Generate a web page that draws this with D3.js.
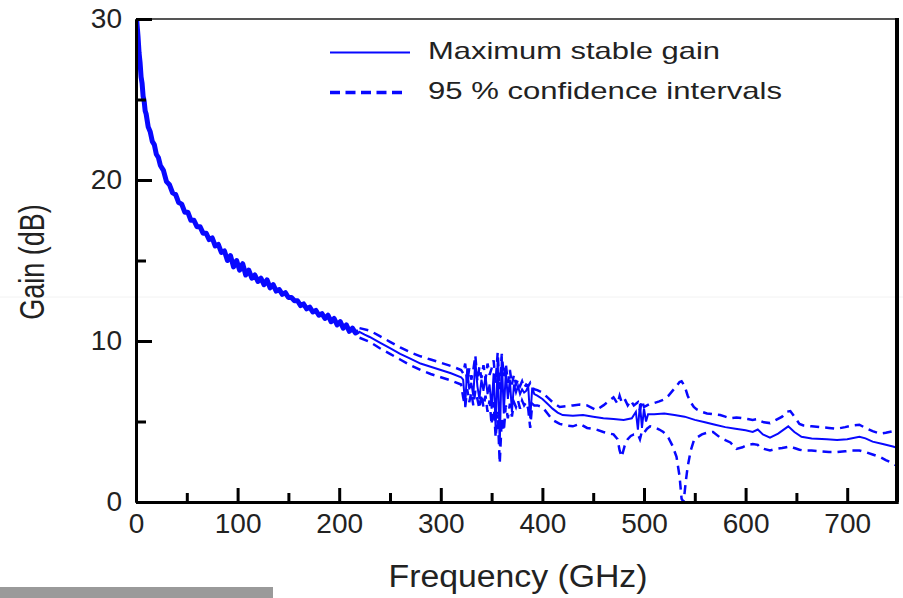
<!DOCTYPE html>
<html>
<head>
<meta charset="utf-8">
<script src="https://cdn.jsdelivr.net/npm/d3@7"></script>
<style>
  body { margin: 0; background: #fff; }
  svg { display: block; font-family: "Liberation Sans", Arial, sans-serif; }
</style>
</head>
<body>
<svg width="903" height="598"></svg>
<script>
// measured maximum stable gain, 0-220 GHz is the noisy low band
var freq = [0,1,2,3,4,5,6,7,8,9,10,12,14,16,18,20,22,24,27,30,33,36,39,42,45,48,51,54,57,60,63,66,69,72,75,78,81,84,87,90,93,96,99,102,105,108,111,114,117,120,123,126,129,132,135,138,141,144,147,150,153,156,159,162,165,168,171,174,177,180,183,186,189,192,195,198,201,204,207,210,213,216,219,
  225,230,240,250,260,270,280,290,300,310,320,322,324,326,328,330,332,334,336,338,340,342,344,346,348,350,352,354,356,358,360,362,364,366,368,370,372,374,376,378,380,382,384,386,388,390,392,395,
  400,405,410,415,420,430,440,450,460,470,480,488,492,494,496,498,500,502,504,510,520,530,540,550,560,570,580,590,600,607,612,617,624,632,642,648,655,665,680,690,700,712,718,725,735,745,750];
var gain = [30.6,29.7,28.9,27.9,27.3,26.4,26.0,25.2,24.9,24.3,24.1,23.3,23.0,22.4,22.2,21.6,21.4,20.9,20.6,19.9,19.7,19.2,19.1,18.6,18.5,18.0,18.0,17.5,17.5,17.1,17.1,16.7,16.7,16.3,16.4,15.9,16.0,15.5,15.6,15.0,15.3,14.6,15.0,14.4,14.8,14.1,14.4,13.9,14.1,13.7,13.9,13.5,13.8,13.3,13.5,13.1,13.2,12.9,13.0,12.7,12.7,12.5,12.5,12.2,12.3,12.0,12.1,11.8,11.9,11.6,11.7,11.4,11.6,11.2,11.4,11.0,11.2,10.8,11.0,10.6,10.8,10.5,10.6,
  10.4,10.25,9.9,9.55,9.2,8.9,8.6,8.4,8.2,8.0,7.75,7.6,6.0,8.3,7.0,7.4,6.6,8.8,7.2,6.4,7.6,6.9,7.8,6.7,7.3,5.8,8.0,4.5,8.9,3.5,9.0,5.5,8.1,6.4,7.6,5.6,7.3,6.8,7.2,6.7,7.0,6.8,6.9,7.2,5.2,7.1,6.7,6.6,
  6.4,6.1,5.8,5.55,5.4,5.35,5.4,5.3,5.2,5.15,5.1,5.2,5.6,4.5,6.1,4.6,5.8,5.0,5.45,5.45,5.5,5.4,5.3,5.1,4.95,4.8,4.65,4.55,4.45,4.35,4.5,4.2,4.0,4.25,4.7,4.35,4.05,3.95,3.9,3.85,3.9,4.05,3.95,3.75,3.6,3.45,3.35];

// 95 % confidence bounds, drawn from 220 GHz on
var ciFreq = [220,230,240,250,260,270,280,290,300,310,320,
  322,324,326,328,330,332,334,336,338,340,342,344,346,348,350,352,354,356,358,360,362,364,366,368,370,372,374,376,378,380,382,384,386,388,390,392,
  395,400,405,410,417,424,430,437,444,453,460,466,470,474,476,478,481,484,487,490,494,496,498,500,503,506,510,515,519,524,528,532,535,537,539,541,543,546,549,552,557,562,568,575,580,585,591,597,602,607,612,614,618,624,630,636,640,644,648,653,657,665,673,682,690,698,705,712,718,725,732,738,745,750];
var ciUpper = [10.8,10.65,10.3,9.95,9.6,9.3,9.05,8.85,8.65,8.45,8.2,
  8.0,8.6,7.4,8.3,7.6,8.2,9.1,7.5,8.4,7.7,8.5,7.6,8.6,7.9,8.3,8.8,7.4,9.3,7.0,9.2,7.8,8.6,7.4,8.2,7.3,7.9,7.3,7.6,7.2,7.5,7.1,7.3,7.2,7.4,7.1,7.0,
  6.95,6.8,6.5,6.2,5.9,5.95,6.0,6.05,6.0,5.7,6.0,6.3,6.5,6.1,6.6,6.2,6.4,6.0,6.3,6.0,6.2,5.7,6.3,5.9,6.0,6.1,6.15,6.25,6.35,6.6,6.9,7.2,7.45,7.5,7.3,7.0,6.6,6.2,5.9,5.75,5.6,5.5,5.45,5.4,5.3,5.2,5.25,5.2,5.15,5.1,5.15,5.05,4.95,4.9,5.1,5.3,5.6,5.65,5.3,4.85,4.75,4.7,4.65,4.6,4.55,4.65,4.75,4.8,4.6,4.4,4.25,4.3,4.4,4.5];
var ciLower = [10.2,9.95,9.55,9.2,8.85,8.5,8.2,7.95,7.75,7.55,7.3,
  6.5,5.9,7.0,6.2,6.8,6.0,6.9,6.4,5.8,6.7,5.9,6.6,5.6,6.3,4.8,6.2,4.0,5.6,2.4,5.2,4.4,6.0,5.2,6.1,5.3,6.2,5.9,6.3,5.8,6.3,6.0,6.2,5.8,4.6,6.1,6.0,
  6.0,5.9,5.5,5.1,4.85,4.75,4.7,4.85,4.6,4.5,4.35,4.25,4.2,3.9,3.2,2.8,3.5,3.9,4.1,4.2,4.2,3.9,4.4,4.3,4.55,4.7,4.65,4.5,4.35,4.0,3.5,2.8,1.6,0.2,0,1.2,2.2,3.2,3.8,4.0,4.2,4.3,4.35,4.0,3.85,3.7,3.3,3.4,3.55,3.6,3.55,3.4,3.3,3.2,3.3,3.35,3.4,3.45,3.35,3.25,3.2,3.2,3.15,3.1,3.1,3.15,3.2,3.2,3.1,2.95,2.8,2.6,2.4,2.2];

var xTicks = [0,100,200,300,400,500,600,700];
var xMinor = [50,150,250,350,450,550,650];
var yTicks = [0,10,20,30];
var yMinor = [5,15,25];
var legendLabels = ['Maximum stable gain', '95 % confidence intervals'];

var svg = d3.select('svg'),
  plotL = 136, plotR = 898, plotT = 19, plotB = 502,
  blue = '#0808ff';

var x = d3.scaleLinear().domain([0, 750]).range([plotL, plotR]);
var y = d3.scaleLinear().domain([0, 30]).range([plotB, plotT]);

// faint scan line and grey strip of the source image
svg.append('line')
  .attr('x1', 0).attr('x2', 903).attr('y1', 297).attr('y2', 297)
  .attr('stroke', '#f2f2f2').attr('stroke-width', 1);
svg.append('rect')
  .attr('x', 0).attr('y', 587).attr('width', 273).attr('height', 11)
  .attr('fill', '#9a9a9a');

svg.append('clipPath').attr('id', 'plot-clip')
  .append('rect')
  .attr('x', plotL).attr('y', plotT - 1)
  .attr('width', plotR - plotL).attr('height', plotB - plotT + 1);

var line = d3.line()
  .x(d => x(d[0]))
  .y(d => y(d[1]));

var mainPts = d3.zip(freq, gain);
var plot = svg.append('g').attr('clip-path', 'url(#plot-clip)');

plot.append('path')
  .datum(d3.zip(ciFreq, ciUpper))
  .attr('d', line)
  .attr('fill', 'none').attr('stroke', blue)
  .attr('stroke-width', 2.5).attr('stroke-dasharray', '9,6');

plot.append('path')
  .datum(d3.zip(ciFreq, ciLower))
  .attr('d', line)
  .attr('fill', 'none').attr('stroke', blue)
  .attr('stroke-width', 2.5).attr('stroke-dasharray', '9,6');

// low band is drawn as a thick fuzzy trace
plot.append('path')
  .datum(mainPts.filter(d => d[0] <= 220))
  .attr('d', line)
  .attr('fill', 'none').attr('stroke', blue)
  .attr('stroke-width', 5).attr('stroke-linejoin', 'round');

plot.append('path')
  .datum(mainPts.filter(d => d[0] >= 219))
  .attr('d', line)
  .attr('fill', 'none').attr('stroke', blue)
  .attr('stroke-width', 2);

// frame
svg.append('line')
  .attr('x1', plotL).attr('x2', plotR).attr('y1', plotT).attr('y2', plotT)
  .attr('stroke', '#555').attr('stroke-width', 2);
svg.append('line')
  .attr('x1', plotR - 1).attr('x2', plotR - 1).attr('y1', plotT - 1).attr('y2', plotB)
  .attr('stroke', '#000').attr('stroke-width', 4);

// axes
svg.append('g')
  .attr('transform', `translate(${plotL},0)`)
  .call(d3.axisLeft(y).tickValues(yTicks).tickSize(-16).tickSizeOuter(0).tickPadding(14));
svg.append('g')
  .attr('transform', `translate(${plotL},0)`)
  .call(d3.axisLeft(y).tickValues(yMinor).tickSize(-10).tickSizeOuter(0).tickFormat(''));

svg.append('g')
  .attr('transform', `translate(0,${plotB})`)
  .call(d3.axisBottom(x).tickValues(xTicks).tickSize(-14).tickSizeOuter(0).tickPadding(11));
svg.append('g')
  .attr('transform', `translate(0,${plotB})`)
  .call(d3.axisBottom(x).tickValues(xMinor).tickSize(-9).tickSizeOuter(0).tickFormat(''));

svg.selectAll('.domain').attr('stroke', '#000').attr('stroke-width', 3);
svg.selectAll('.tick line').attr('stroke', '#000').attr('stroke-width', 3);
svg.selectAll('.tick text')
  .attr('fill', '#222')
  .style('font-size', '28px')
  .style('font-family', '"Liberation Sans", Arial, sans-serif');

// axis titles
svg.append('text')
  .attr('x', 518).attr('y', 587)
  .attr('text-anchor', 'middle')
  .attr('textLength', 259).attr('lengthAdjust', 'spacingAndGlyphs')
  .style('font-size', '31px').attr('fill', '#222')
  .text('Frequency (GHz)');

svg.append('text')
  .attr('transform', 'translate(44,262) scale(1.3,1) rotate(-90)')
  .attr('text-anchor', 'middle')
  .style('font-size', '27px').attr('fill', '#222')
  .text('Gain (dB)');

// legend
var legend = svg.append('g');
legend.append('line')
  .attr('x1', 330).attr('x2', 410).attr('y1', 52.5).attr('y2', 52.5)
  .attr('stroke', blue).attr('stroke-width', 2);
legend.append('line')
  .attr('x1', 330).attr('x2', 405).attr('y1', 92.5).attr('y2', 92.5)
  .attr('stroke', blue).attr('stroke-width', 3.5).attr('stroke-dasharray', '10,5.5');

legend.selectAll('text.lg')
  .data(legendLabels)
  .enter()
  .append('text')
  .attr('class', 'lg')
  .attr('x', 428)
  .attr('y', (d, i) => 59 + i * 40)
  .attr('textLength', (d, i) => i ? 354 : 292)
  .attr('lengthAdjust', 'spacingAndGlyphs')
  .style('font-size', '24px').attr('fill', '#222')
  .text(d => d);
</script>
</body>
</html>
